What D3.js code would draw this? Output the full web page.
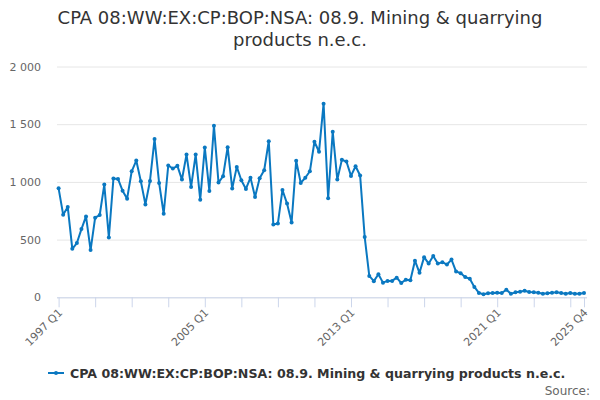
<!DOCTYPE html>
<html>
<head>
<meta charset="utf-8">
<script src="https://cdn.jsdelivr.net/npm/d3@7"></script>
<style>
  body { margin: 0; background: #fff; }
  svg { font-family: "DejaVu Sans", sans-serif; }
</style>
</head>
<body>
<div id="chart"></div>
<script>
// chart values
var titleLines = ["CPA 08:WW:EX:CP:BOP:NSA: 08.9. Mining & quarrying", "products n.e.c."];
var seriesName = "CPA 08:WW:EX:CP:BOP:NSA: 08.9. Mining & quarrying products n.e.c.";
var startYear = 1997;
var values = [
  944, 716, 783, 420, 470, 591, 701, 409, 690, 713,
  977, 518, 1029, 1026, 924, 855, 1092, 1185, 1005, 805,
  1008, 1371, 991, 724, 1142, 1116, 1139, 1020, 1237, 956,
  1237, 846, 1298, 922, 1487, 994, 1049, 1301, 942, 1130,
  1014, 939, 1037, 870, 1031, 1101, 1353, 631, 640, 930,
  812, 649, 1183, 991, 1036, 1092, 1348, 1261, 1678, 858,
  1435, 1020, 1191, 1177, 1052, 1136, 1055, 522, 185, 140,
  200, 127, 142, 142, 170, 124, 153, 147, 317, 212,
  348, 292, 357, 292, 304, 284, 327, 223, 209, 176,
  160, 90, 38, 26, 35, 37, 40, 37, 66, 31,
  43, 49, 57, 46, 43, 40, 31, 35, 40, 43,
  37, 31, 37, 31, 31, 37
];
var yTicks = [0, 500, 1000, 1500, 2000];
var xLabels = ["1997 Q1", "2005 Q1", "2013 Q1", "2021 Q1", "2025 Q4"];

var data = values.map(function(v, i) {
  return { idx: i, label: (startYear + Math.floor(i / 4)) + " Q" + (i % 4 + 1), value: v };
});

var width = 600, height = 400;
var plotLeft = 57, plotRight = 587, plotTop = 66.5, plotBottom = 297.3;
var color = "#0a78c1";

var svg = d3.select("#chart").append("svg")
  .attr("width", width)
  .attr("height", height);

// title
svg.append("text")
  .attr("x", width / 2)
  .attr("y", 24)
  .attr("text-anchor", "middle")
  .attr("fill", "#333")
  .style("font-size", "18px")
  .selectAll("tspan")
  .data(titleLines)
  .enter()
  .append("tspan")
  .attr("x", width / 2)
  .attr("dy", function(d, i) { return i ? 22 : 0; })
  .text(function(d) { return d; });

var x = d3.scaleLinear().domain([0, values.length - 1]).range([58.6, 584]);
var y = d3.scaleLinear().domain([0, 2000]).range([plotBottom, plotTop]);

// grid + y labels
var yAxis = svg.append("g")
  .attr("transform", "translate(" + plotLeft + ",0)")
  .call(d3.axisLeft(y).tickValues(yTicks).tickSize(-(plotRight - plotLeft)).tickPadding(16)
    .tickFormat(function(d) { return d3.format(",")(d).replace(",", " "); }));
yAxis.select(".domain").remove();
yAxis.selectAll(".tick line").attr("stroke", "#e6e6e6");
yAxis.selectAll(".tick text").attr("fill", "#666").style("font-size", "11px").attr("font-family", "DejaVu Sans");

// x axis: ticks every 2 years and last quarter
var tickIdx = d3.range(0, values.length, 8).concat([values.length - 1]);
var xAxis = svg.append("g")
  .attr("transform", "translate(0," + plotBottom + ")")
  .call(d3.axisBottom(x).tickValues(tickIdx).tickSize(10)
    .tickFormat(function(d) {
      var lab = data[d].label;
      return xLabels.indexOf(lab) >= 0 ? lab : "";
    }));
xAxis.select(".domain").attr("stroke", "#ccd6eb").attr("d", "M" + plotLeft + ",0.5H" + plotRight);
xAxis.selectAll(".tick line").attr("stroke", "#ccd6eb");
xAxis.selectAll(".tick text")
  .attr("fill", "#666")
  .style("font-size", "11px")
  .attr("font-family", "DejaVu Sans")
  .attr("text-anchor", "end")
  .attr("dy", null)
  .attr("y", 0)
  .attr("transform", "translate(4,16) rotate(-45)");

// line + markers
var line = d3.line()
  .x(function(d) { return x(d.idx); })
  .y(function(d) { return y(d.value); });

svg.append("path")
  .datum(data)
  .attr("fill", "none")
  .attr("stroke", color)
  .attr("stroke-width", 2)
  .attr("stroke-linejoin", "round")
  .attr("d", line);

svg.append("g")
  .selectAll("circle")
  .data(data)
  .enter()
  .append("circle")
  .attr("cx", function(d) { return x(d.idx); })
  .attr("cy", function(d) { return y(d.value); })
  .attr("r", 2)
  .attr("fill", color);

// legend
var legend = svg.append("g").attr("transform", "translate(0,373)");
legend.append("line")
  .attr("x1", 48).attr("x2", 64).attr("y1", 0).attr("y2", 0)
  .attr("stroke", color).attr("stroke-width", 2);
legend.append("circle").attr("cx", 56).attr("cy", 0).attr("r", 2).attr("fill", color);
legend.append("text")
  .attr("x", 70)
  .attr("y", 4.5)
  .attr("fill", "#333")
  .style("font-size", "12.6px")
  .style("font-weight", "bold")
  .text(seriesName);

svg.append("text")
  .attr("x", 590)
  .attr("y", 395)
  .attr("text-anchor", "end")
  .attr("fill", "#666")
  .style("font-size", "12px")
  .text("Source:");
</script>
</body>
</html>
